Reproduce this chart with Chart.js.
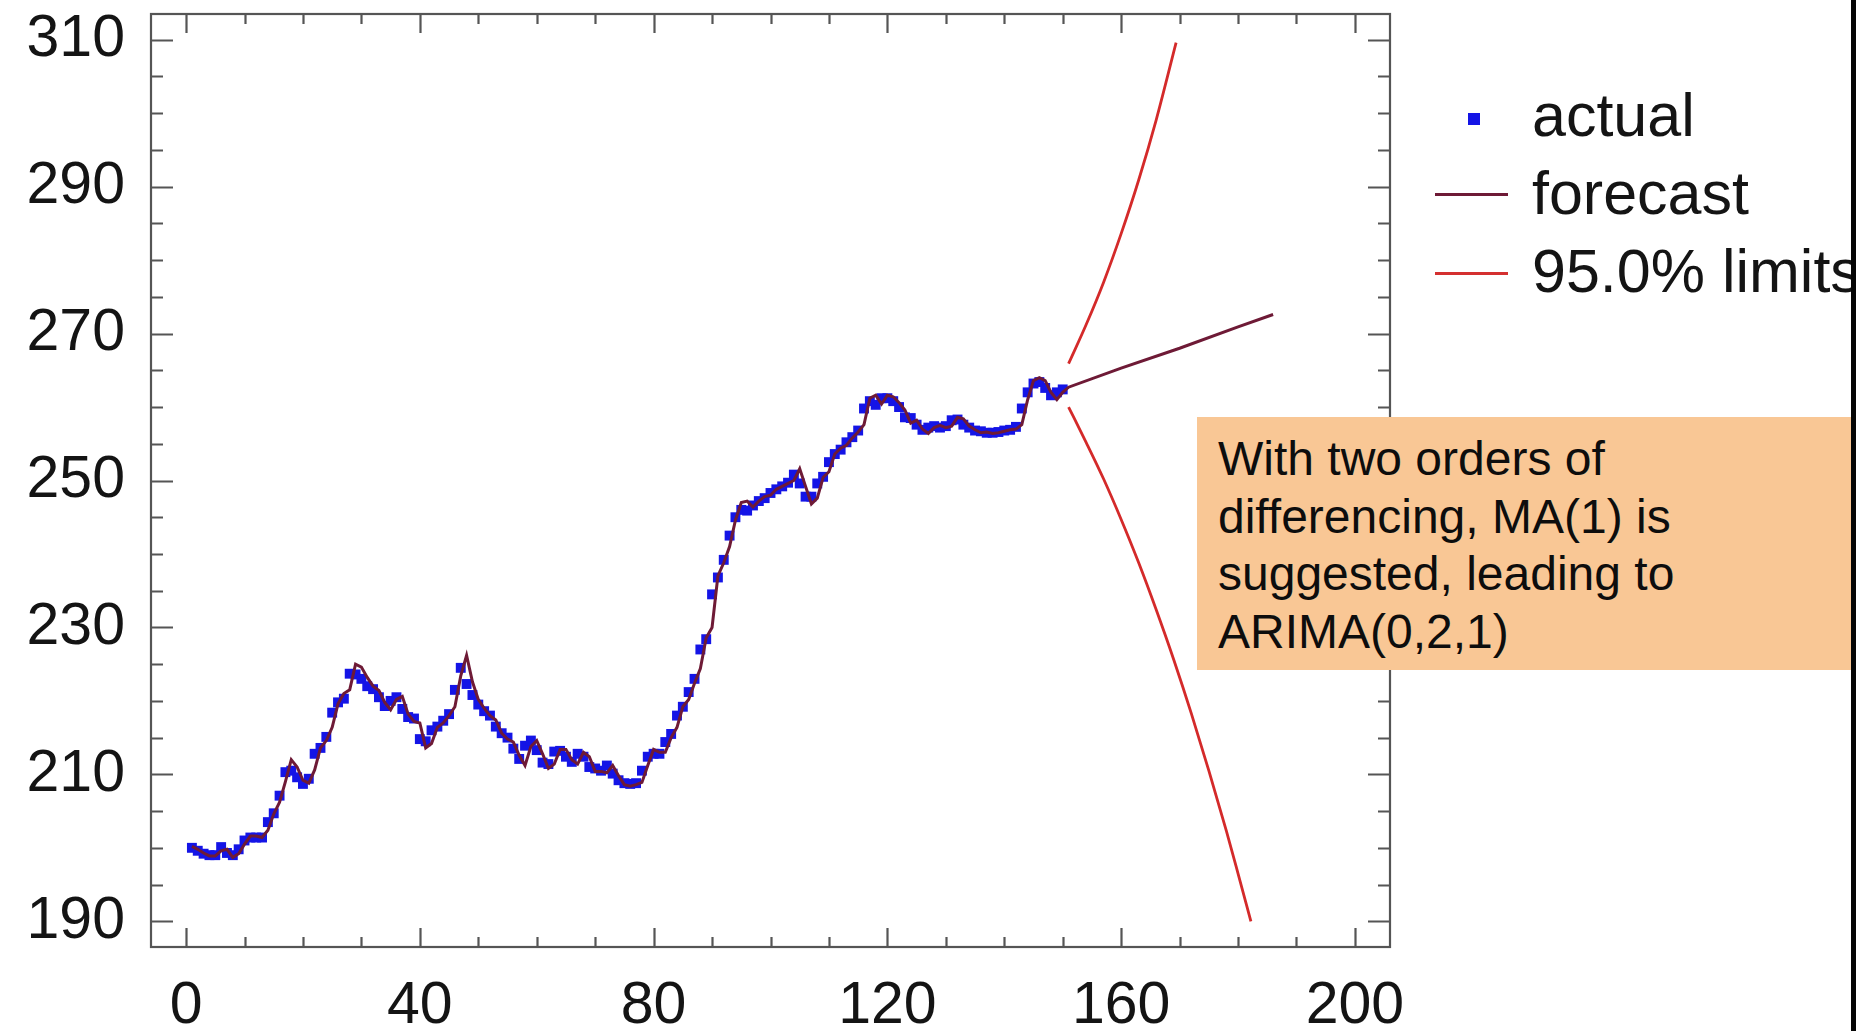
<!DOCTYPE html>
<html>
<head>
<meta charset="utf-8">
<script src="https://cdn.jsdelivr.net/npm/chart.js@4.4.1/dist/chart.umd.min.js"></script>
<style>
html,body{margin:0;padding:0;background:#fff;width:1864px;height:1031px;overflow:hidden;font-family:"Liberation Sans",Arial,Helvetica,sans-serif;}
#wrap{position:relative;width:1864px;height:1031px;}
#c{position:absolute;left:0;top:0;}
#legclip{position:absolute;left:0;top:0;width:1851px;height:400px;overflow:hidden;}
.legtxt{position:absolute;left:1532px;font-size:61px;line-height:61px;color:#141414;white-space:nowrap;}
.legline{position:absolute;left:1435px;width:73px;height:3px;}
#legsq{position:absolute;left:1468px;top:113px;width:12px;height:12px;background:#1414e6;}
#note{position:absolute;left:1197px;top:417px;width:655px;height:253px;background:#f9c795;}
#notetxt{position:absolute;left:1218px;top:430px;font-size:48px;line-height:57.7px;color:#0d0d0d;white-space:nowrap;}
#edge{position:absolute;left:1851px;top:0;width:5px;height:1031px;background:#050505;}
</style>
</head>
<body>
<div id="wrap">
  <canvas id="c" width="1864" height="1031"></canvas>
  <div id="legclip">
    <div id="legsq"></div>
    <div class="legtxt" style="top:85px">actual</div>
    <div class="legline" style="top:193px;background:#6e1a36"></div>
    <div class="legtxt" style="top:163px">forecast</div>
    <div class="legline" style="top:272px;background:#d43030"></div>
    <div class="legtxt" style="top:241px">95.0% limits</div>
  </div>
  <div id="note"></div>
  <div id="notetxt">With two orders of<br>differencing, MA(1) is<br>suggested, leading to<br>ARIMA(0,2,1)</div>
  <div id="edge"></div>
</div>
<script>
// ---- data ----
const startPeriod = 1; // first observed period
const actualValues = [
  200.0, 199.6, 199.2, 199.0, 199.0, 200.1, 199.3, 199.0, 199.8, 201.0,
  201.4, 201.4, 201.4, 203.5, 204.7, 207.1, 210.3, 210.5, 209.6, 208.7,
  209.4, 212.8, 213.6, 215.1, 218.4, 219.8, 220.3, 223.7, 223.6, 223.0,
  222.0, 221.6, 220.5, 219.3, 220.0, 220.5, 218.9, 217.8, 217.6, 214.8,
  214.5, 216.0, 216.5, 217.3, 218.2, 221.5, 224.5, 222.3, 220.8, 219.5,
  218.6, 218.0, 216.5, 215.6, 215.0, 213.5, 212.1, 213.9, 214.6, 213.3,
  211.6, 211.4, 213.1, 213.2, 212.4, 211.7, 212.8, 212.4, 211.0, 210.8,
  210.5, 211.2, 210.1, 209.2, 208.8, 208.7, 208.8, 210.5, 212.4, 212.8,
  212.8, 214.4, 215.5, 218.0, 219.2, 221.2, 223.0, 227.0, 228.4, 234.5,
  236.8, 239.2, 242.5, 245.0, 246.0, 245.9, 246.6, 247.2, 247.6, 248.3,
  248.8, 249.2, 249.7, 250.8, 249.6, 247.8, 247.8, 249.6, 250.5, 252.5,
  253.6, 254.2, 255.2, 255.9, 256.8, 259.8, 260.8, 260.3, 261.2, 261.2,
  260.8, 260.0, 258.6, 258.5, 257.6, 256.9, 257.2, 257.4, 257.2, 257.4,
  258.2, 258.3, 257.6, 257.2, 256.8, 256.7, 256.5, 256.5, 256.6, 256.8,
  256.9, 257.3, 259.8, 262.0, 263.2, 263.4, 262.6, 261.6, 262.0, 262.4
];
const fittedValues = [
  200.2, 199.8, 199.3, 198.9, 198.9, 199.6, 199.8, 198.7, 199.2, 200.5,
  201.6, 201.6, 201.4, 202.4, 204.6, 206.2, 209.0, 212.0, 211.0, 209.2,
  208.8, 210.6, 213.6, 214.6, 216.4, 219.6, 221.0, 221.5, 225.0, 224.6,
  223.2, 222.0, 221.4, 219.8, 218.8, 220.2, 220.6, 218.2, 217.2, 217.0,
  213.6, 214.2, 216.4, 217.0, 218.0, 219.2, 223.4, 226.2, 222.6, 220.2,
  219.0, 218.0, 217.4, 215.6, 214.8, 214.4, 212.6, 211.2, 213.8, 214.6,
  212.8, 210.8, 211.4, 213.4, 213.4, 212.0, 211.4, 213.0, 212.4, 210.4,
  210.4, 210.2, 211.2, 209.8, 208.6, 208.4, 208.6, 208.9, 211.2, 213.4,
  213.0, 213.0, 215.0, 216.4, 219.2, 220.2, 222.4, 224.4, 228.6, 230.0,
  237.0, 238.8, 241.0, 244.6, 247.0, 247.2, 246.4, 247.2, 247.8, 248.0,
  248.8, 249.2, 249.6, 250.0, 251.6, 249.2, 246.8, 247.6, 250.4, 251.2,
  253.6, 254.4, 254.8, 255.8, 256.6, 257.6, 261.2, 261.6, 260.4, 261.6,
  261.4, 260.6, 259.6, 257.8, 258.2, 257.0, 256.4, 257.2, 257.5, 257.2,
  257.4, 258.6, 258.4, 257.4, 256.9, 256.5, 256.6, 256.4, 256.5, 256.7,
  256.9, 257.0, 257.6, 261.0, 263.6, 264.0, 263.6, 262.0, 261.0, 262.0
];
const forecastPeriods = [151, 160, 170, 180, 186];
const forecastValues  = [262.7, 265.3, 268.0, 270.9, 272.6];
const upperPeriods = [151, 154, 157, 160, 163, 166, 169.4];
const upperValues  = [265.9, 271.2, 277.0, 283.6, 290.9, 299.1, 309.6];
const lowerPeriods = [151, 154, 157, 160, 163, 166, 169, 172, 175, 178, 180, 182.2];
const lowerValues  = [260.0, 255.2, 250.2, 244.7, 238.8, 232.4, 225.6, 218.3, 210.5, 202.3, 196.5, 190.0];
const xTickLabels = [0, 40, 80, 120, 160, 200];
const yTickLabels = [190, 210, 230, 250, 270, 290, 310];

// ---- build tables ----
const actualPts = actualValues.map((v, i) => ({x: startPeriod + i, y: v}));
const forecastPts = fittedValues.map((v, i) => ({x: startPeriod + i, y: v}))
  .concat(forecastPeriods.map((t, i) => ({x: t, y: forecastValues[i]})));
const upperPts = upperPeriods.map((t, i) => ({x: t, y: upperValues[i]}));
const lowerPts = lowerPeriods.map((t, i) => ({x: t, y: lowerValues[i]}));

const FONT = '"Liberation Sans", Arial, Helvetica, sans-serif';

const framePlugin = {
  id: 'frame',
  afterDatasetsDraw(chart) {
    const {ctx, chartArea: a, scales: {x, y}} = chart;
    ctx.save();
    ctx.strokeStyle = '#555';
    ctx.lineWidth = 2.2;
    ctx.strokeRect(a.left, a.top, a.right - a.left, a.bottom - a.top);
    ctx.beginPath();
    for (let v = 0; v <= 200; v += 10) {
      const px = Math.round(x.getPixelForValue(v)) + 0.5;
      const L = xTickLabels.includes(v) ? 19 : 10;
      ctx.moveTo(px, a.bottom); ctx.lineTo(px, a.bottom - L);
      ctx.moveTo(px, a.top); ctx.lineTo(px, a.top + L);
    }
    for (let v = 190; v <= 310; v += 5) {
      const py = Math.round(y.getPixelForValue(v)) + 0.5;
      const L = yTickLabels.includes(v) ? 22 : 12;
      ctx.moveTo(a.left, py); ctx.lineTo(a.left + L, py);
      ctx.moveTo(a.right, py); ctx.lineTo(a.right - L, py);
    }
    ctx.stroke();
    ctx.restore();
  }
};

new Chart(document.getElementById('c'), {
  type: 'scatter',
  data: {
    datasets: [
      {label: 'forecast', data: forecastPts, showLine: true, borderColor: '#6e1a36', borderWidth: 3,
       pointRadius: 0, tension: 0, order: 0},
      {label: '95.0% limits', data: upperPts, showLine: true, borderColor: '#d42a2a', borderWidth: 2.8,
       pointRadius: 0, tension: 0.4, cubicInterpolationMode: 'monotone', order: 0},
      {label: '95.0% limits (lower)', data: lowerPts, showLine: true, borderColor: '#d42a2a', borderWidth: 2.8,
       pointRadius: 0, tension: 0.4, cubicInterpolationMode: 'monotone', order: 0},
      {label: 'actual', data: actualPts, showLine: false, pointStyle: 'rect', pointRadius: 7,
       backgroundColor: '#1414e6', borderWidth: 0, order: 1}
    ]
  },
  options: {
    responsive: false,
    animation: false,
    layout: {padding: {top: 14, right: 474, left: 0, bottom: 0}},
    plugins: {legend: {display: false}, tooltip: {enabled: false}},
    scales: {
      x: {
        type: 'linear', min: -6, max: 206,
        afterBuildTicks: s => { s.ticks = xTickLabels.map(v => ({value: v})); },
        afterFit: s => { s.height = 84; s.paddingLeft = 0; s.paddingRight = 0; },
        grid: {display: false, drawTicks: false},
        border: {display: false},
        ticks: {padding: 24, color: '#141414', font: {family: FONT, size: 59}, maxRotation: 0, autoSkip: false}
      },
      y: {
        type: 'linear', min: 186.5, max: 313.5,
        afterBuildTicks: s => { s.ticks = yTickLabels.map(v => ({value: v})); },
        afterFit: s => { s.width = 151; s.paddingTop = 0; s.paddingBottom = 0; },
        grid: {display: false, drawTicks: false},
        border: {display: false},
        ticks: {padding: 26, color: '#141414', font: {family: FONT, size: 59}, autoSkip: false}
      }
    }
  },
  plugins: [framePlugin]
});
</script>
</body>
</html>
